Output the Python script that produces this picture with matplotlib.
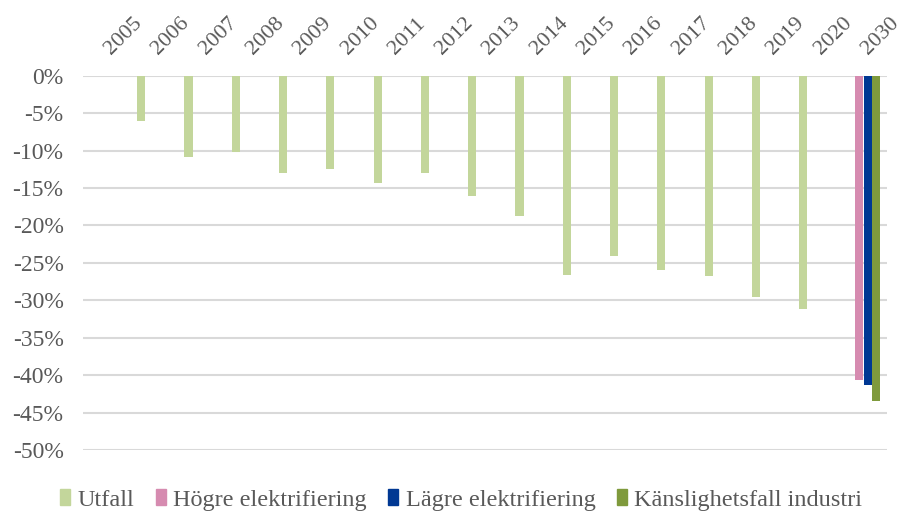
import numpy as np
import matplotlib.pyplot as plt
from matplotlib.patches import Patch
from matplotlib.transforms import ScaledTranslation

# Data (per cent change)
years = ["2005", "2006", "2007", "2008", "2009", "2010", "2011", "2012", "2013",
         "2014", "2015", "2016", "2017", "2018", "2019", "2020", "2030"]
utfall = [0.0, -6.0, -10.8, -10.2, -13.0, -12.4, -14.4, -13.0, -16.1,
          -18.8, -26.6, -24.1, -26.0, -26.8, -29.6, -31.2, np.nan]
hogre = [np.nan] * 16 + [-40.6]
lagre = [np.nan] * 16 + [-41.3]
kanslighet = [np.nan] * 16 + [-43.4]

series = [
    ("Utfall", utfall, "#C3D69B"),
    ("Högre elektrifiering", hogre, "#D68BB0"),
    ("Lägre elektrifiering", lagre, "#003893"),
    ("Känslighetsfall industri", kanslighet, "#7F9A3C"),
]

plt.rcParams["font.family"] = ["Liberation Serif", "DejaVu Serif"]
text_col = "#595959"

fig = plt.figure(figsize=(9.01, 5.12), dpi=100)
ax = fig.add_axes([83 / 901, 1 - 450 / 512, 804 / 901, (450 - 75.7) / 512])

x = np.arange(len(years))
w = 0.18
for i, (name, vals, col) in enumerate(series):
    ax.bar(x + (i - 1.5) * w, vals, width=w * 0.95, color=col, zorder=3)

ax.set_xlim(-0.5, len(years) - 0.5)
ax.set_ylim(-50, 0)
ax.set_yticks(np.arange(-50, 1, 5))
ax.set_yticklabels([f"{v}%" for v in range(-50, 1, 5)], fontsize=17, color=text_col)
ax.yaxis.grid(True, color="#D9D9D9", linewidth=1.5, zorder=0)
ax.tick_params(axis="y", length=0, pad=14)

ax.xaxis.tick_top()
ax.set_xticks(x)
ax.set_xticklabels(years, rotation=45, ha="left", va="bottom",
                   rotation_mode="anchor", fontsize=16, color=text_col)
ax.tick_params(axis="x", length=0, pad=12)
# nudge the rotated year labels to the right, like the original
shift = ScaledTranslation(8 / 100, 0, fig.dpi_scale_trans)
for lab in ax.get_xticklabels():
    lab.set_transform(lab.get_transform() + shift)

for s in ax.spines.values():
    s.set_visible(False)

handles = [Patch(color=col, label=name) for name, _, col in series]
fig.legend(handles=handles, loc="lower center", bbox_to_anchor=(0.512, -0.04),
           ncol=4, frameon=False, fontsize=17.5, handlelength=0.4, handleheight=0.6,
           handletextpad=0.3, columnspacing=0.9, labelcolor=text_col)

fig.savefig("out.png", dpi=100)
